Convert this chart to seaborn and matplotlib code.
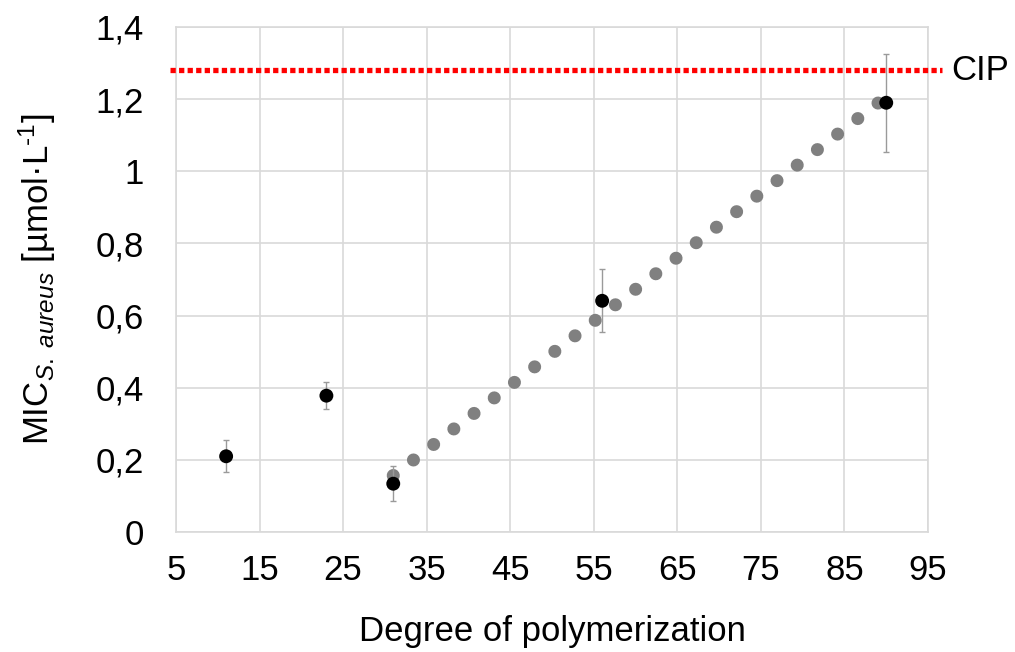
import matplotlib
matplotlib.use("Agg")
import matplotlib.pyplot as plt
from matplotlib.ticker import FuncFormatter, MultipleLocator
import numpy as np
import pandas as pd
import seaborn as sns

# Measured MIC values against S. aureus by degree of polymerization
dp = [11, 23, 31, 56, 90]
mic = [0.21, 0.378, 0.134, 0.641, 1.19]
mic_err = [0.044, 0.038, 0.049, 0.087, 0.136]

# Points used for the linear trend (DP >= 31)
trend_dp = [31, 56, 90]
trend_mic = [0.134, 0.641, 1.19]

# Reference level for ciprofloxacin
cip_level = 1.28
cip_label = "CIP"

x_ticks = [5, 15, 25, 35, 45, 55, 65, 75, 85, 95]

sns.set_theme(style="whitegrid")
plt.rcParams["font.family"] = ["Liberation Sans", "DejaVu Sans"]
plt.rcParams["mathtext.fontset"] = "custom"
plt.rcParams["mathtext.rm"] = "Liberation Sans"
plt.rcParams["mathtext.it"] = "Liberation Sans:italic"
plt.rcParams["mathtext.bf"] = "Liberation Sans:bold"
plt.rcParams["text.color"] = "black"
plt.rcParams["axes.labelcolor"] = "black"

fig = plt.figure(figsize=(10.15, 6.52), dpi=100)
ax = fig.add_axes([0.1734, 0.184, 0.9143 - 0.1734, 0.9586 - 0.184])

df = pd.DataFrame({"dp": dp, "mic": mic, "err": mic_err})
trend = pd.DataFrame({"dp": trend_dp, "mic": trend_mic})

# Linear trend drawn as a row of round dots
sns.regplot(data=trend, x="dp", y="mic", ax=ax, ci=None, scatter=False,
            truncate=True,
            line_kws=dict(color="#808080", linewidth=9.4,
                          linestyle=(0, (0.001, 1.95)),
                          dash_capstyle="round", zorder=3))

# Error bars and measured points
ax.errorbar(df["dp"], df["mic"], yerr=df["err"], fmt="none",
            ecolor="#9a9a9a", elinewidth=1.0, capsize=2.5, capthick=1.0,
            zorder=4)
sns.scatterplot(data=df, x="dp", y="mic", ax=ax, color="black", s=100,
                edgecolor="none", zorder=5)

# CIP reference line, running slightly past the plot area
ax.plot([4.3, 96.7], [cip_level, cip_level], color="#ff0000", linewidth=3.8,
        linestyle=(0, (1.0, 0.62)), dash_capstyle="butt", clip_on=False,
        zorder=6)
ax.text(97.8, cip_level, cip_label, fontsize=25, va="center", ha="left",
        color="black", clip_on=False)

ax.set_xlim(5, 95)
ax.set_ylim(0, 1.4)
ax.set_xticks(x_ticks)
ax.yaxis.set_major_locator(MultipleLocator(0.2))
ax.yaxis.set_major_formatter(
    FuncFormatter(lambda v, _: f"{v:.1f}".rstrip("0").rstrip(".").replace(".", ",")))

ax.grid(True, color="#d9d9d9", linewidth=1.2)
for side in ax.spines.values():
    side.set_color("#d9d9d9")
    side.set_linewidth(1.2)
ax.tick_params(axis="both", length=0, labelsize=25, colors="black")
ax.tick_params(axis="x", pad=16)
ax.tick_params(axis="y", pad=23)

ax.set_xlabel("Degree of polymerization", fontsize=25, labelpad=20)
ax.set_ylabel(r"MIC$_{\mathit{S.\ aureus}}$ [µmol·L$^{\text{-}1}$]",
              fontsize=25, labelpad=27)

fig.savefig("out.png", dpi=100, facecolor="white")
